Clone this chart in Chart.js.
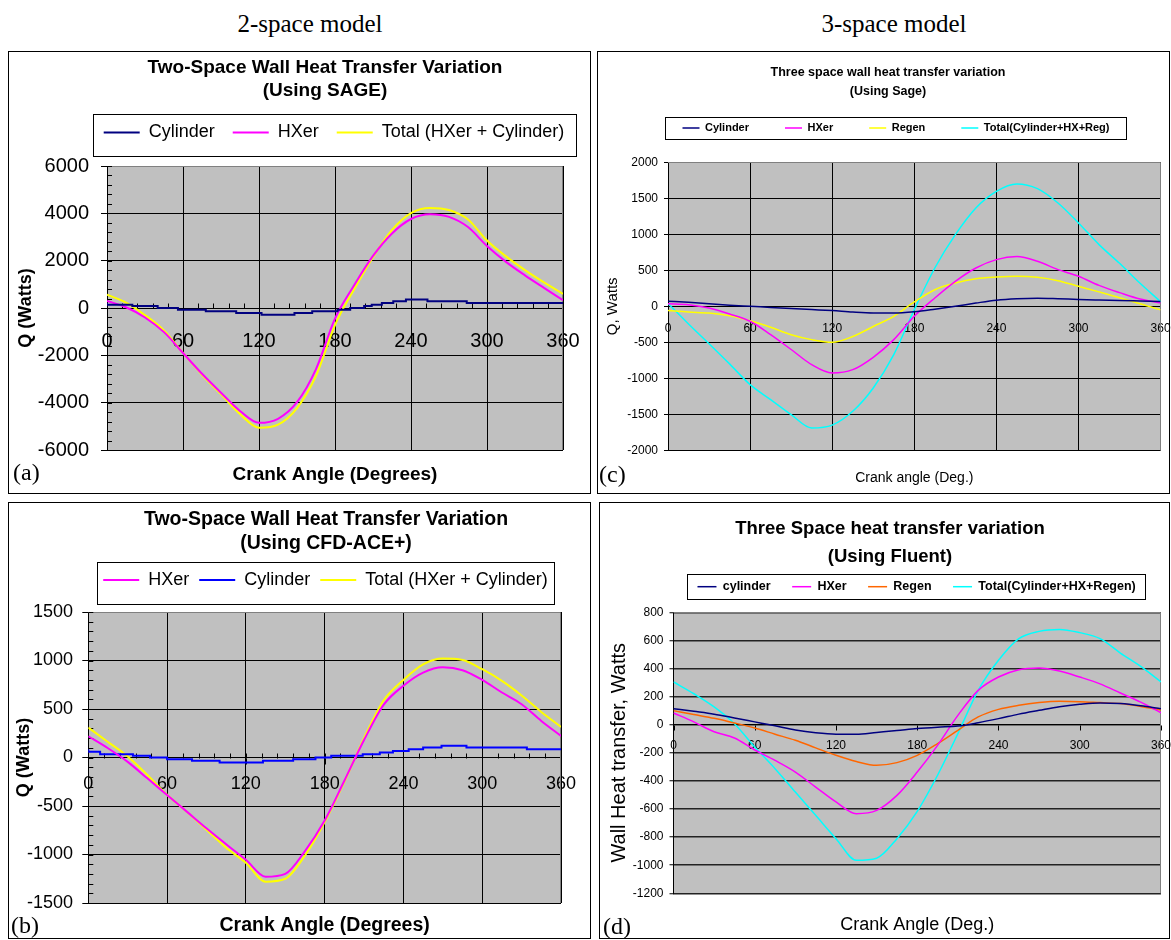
<!DOCTYPE html>
<html>
<head>
<meta charset="utf-8">
<title>Wall heat transfer variation</title>
<script src="https://cdn.jsdelivr.net/npm/chart.js@4.4.1/dist/chart.umd.min.js"></script>
<style>
  html, body { margin: 0; padding: 0; background: #fff; width: 1171px; height: 940px; overflow: hidden; }
  .panel { position: absolute; border: 1px solid #000; box-sizing: border-box; }
  canvas { position: absolute; }
  .cap { position: absolute; font-family: 'Liberation Serif', 'Times New Roman', serif; line-height: 1; white-space: nowrap; color: #000; }
</style>
</head>
<body>
<div class="cap" style="left:160px;top:11px;width:300px;text-align:center;font-size:25px;">2-space model</div>
<div class="cap" style="left:744px;top:11px;width:300px;text-align:center;font-size:25px;">3-space model</div>

<div class="panel" style="left:8px;top:51px;width:583px;height:443px;"></div>
<div class="panel" style="left:597px;top:51px;width:573px;height:443px;"></div>
<div class="panel" style="left:8px;top:502px;width:583px;height:437px;"></div>
<div class="panel" style="left:599px;top:502px;width:571px;height:437px;"></div>

<canvas id="chartA" width="581" height="440" style="left:9px;top:52px;"></canvas>
<canvas id="chartC" width="573" height="440" style="left:598px;top:52px;"></canvas>
<canvas id="chartB" width="581" height="434" style="left:9px;top:503px;"></canvas>
<canvas id="chartD" width="571" height="434" style="left:600px;top:503px;"></canvas>

<div class="cap" style="left:13px;top:460px;font-size:24px;">(a)</div>
<div class="cap" style="left:11px;top:913px;font-size:24px;">(b)</div>
<div class="cap" style="left:599px;top:462px;font-size:24px;">(c)</div>
<div class="cap" style="left:603px;top:914px;font-size:24px;">(d)</div>

<script>
// Crank angle grid used by the smooth series (degrees)
const crankAngle = [0, 15, 30, 45, 60, 75, 90, 105, 120, 135, 150, 165, 180,
                    195, 210, 225, 240, 255, 270, 285, 300, 315, 330, 345, 360];
const xTickAngles = [0, 60, 120, 180, 240, 300, 360];

// (a) Two-space, SAGE
const sage2Hxer  = [300, 30, -400, -1020, -1900, -2780, -3580, -4350, -4850, -4680, -3980, -2580, -450,
                    950, 2200, 3150, 3760, 3960, 3850, 3420, 2620, 1950, 1380, 850, 330];
const sage2Total = [560, 230, -300, -950, -1900, -2820, -3640, -4480, -5060, -4930, -4230, -2870, -720,
                    780, 2150, 3300, 4010, 4230, 4140, 3740, 2850, 2180, 1600, 1080, 600];
const sage2CylAngle = [0, 20, 40, 56, 78, 102, 122, 148, 162, 182, 192, 203, 209, 217, 226, 236, 253, 284, 349, 360];
const sage2Cyl      = [210, 140, 80, 0, -70, -140, -210, -280, -210, -140, -70, 0, 80, 140, 210, 280, 360, 290, 210, 210];
const yTicksA = [-6000, -4000, -2000, 0, 2000, 4000, 6000];

// (b) Two-space, CFD-ACE+
const cfd2Hxer  = [219, 95, -45, -215, -387, -558, -730, -895, -1055, -1230, -1200, -965, -650,
                   -240, 180, 545, 740, 875, 930, 900, 800, 670, 549, 377, 222];
const cfd2Total = [308, 160, 10, -180, -385, -560, -745, -930, -1085, -1280, -1250, -1010, -665,
                   -250, 200, 590, 800, 960, 1020, 1005, 910, 790, 640, 470, 315];
const cfd2CylAngle = [0, 9, 34, 47, 60, 79, 100, 133, 156, 173, 185, 209, 222, 232, 244, 255, 269, 288, 334, 357, 360];
const cfd2Cyl      = [86, 58, 34, 17, 0, -17, -34, -51, -34, -17, 0, 17, 34, 51, 68, 86, 103, 120, 103, 86, 86];
const yTicksB = [-1500, -1000, -500, 0, 500, 1000, 1500];

// (c) Three-space, Sage
const sage3Cyl   = [70, 55, 35, 15, 0, -15, -30, -45, -60, -80, -92, -92, -75,
                    -40, 0, 45, 85, 105, 112, 105, 95, 88, 82, 75, 68];
const sage3Hxer  = [37, 23, -23, -106, -208, -394, -600, -810, -926, -880, -708, -463, -139,
                    116, 347, 532, 648, 690, 625, 509, 417, 290, 190, 100, 45];
const sage3Regen = [-60, -80, -93, -130, -200, -290, -394, -463, -500, -420, -280, -140, 60,
                    230, 324, 384, 407, 417, 403, 356, 278, 200, 120, 35, -50];
const sage3Total = [40, -245, -520, -800, -1088, -1296, -1505, -1690, -1650, -1458, -1134, -671, -46,
                    532, 995, 1366, 1597, 1699, 1634, 1435, 1158, 857, 597, 320, 64];
const yTicksC = [-2000, -1500, -1000, -500, 0, 500, 1000, 1500, 2000];

// (d) Three-space, Fluent
const fluent3Cyl   = [114, 95, 75, 48, 20, -8, -38, -58, -68, -68, -55, -42, -28,
                      -18, -10, 14, 43, 75, 102, 128, 145, 155, 150, 135, 114];
const fluent3Hxer  = [83, 20, -50, -95, -180, -254, -337, -444, -550, -633, -610, -503, -337,
                      -147, 66, 244, 339, 391, 403, 382, 339, 290, 225, 160, 85];
const fluent3Regen = [100, 72, 45, 12, -24, -68, -111, -165, -218, -262, -289, -270, -218,
                      -135, -40, 55, 109, 138, 157, 166, 164, 157, 150, 130, 105];
const fluent3Total = [304, 220, 126, 7, -159, -313, -479, -645, -811, -965, -950, -811, -617,
                      -360, -64, 244, 458, 612, 664, 678, 655, 612, 510, 415, 305];
const yTicksD = [-1200, -1000, -800, -600, -400, -200, 0, 200, 400, 600, 800];

const NAVY = '#000080', MAGENTA = '#FF00FF', YELLOW = '#FFFF00', BLUE = '#0000FF',
      CYAN = '#00FFFF', ORANGE = '#FF6600';

Chart.defaults.font.family = "'Liberation Sans', Arial, Helvetica, sans-serif";
Chart.defaults.color = '#000';

function pairUp(xs, ys) { return xs.map((x, i) => ({ x: x, y: ys[i] })); }

// Places the title and legend rows, and outlines the legend
const blockPlacer = {
  id: 'blockPlacer',
  afterLayout(chart, args, o) {
    const t = chart.titleBlock;
    if (t && o.title) {
      const f = t.options.font;
      const lh = f.size * (f.lineHeight || 1.2);
      const w = t.right - t.left, h = t.bottom - t.top;
      t.left = o.title.x - w / 2; t.right = t.left + w;
      t.top = o.title.y - lh / 2; t.bottom = t.top + h;
    }
    const lg = chart.legend;
    if (lg && o.legend) {
      const pad = lg.options.labels.padding;
      const fs = lg.options.labels.font.size;
      const w = lg.right - lg.left, h = lg.bottom - lg.top;
      lg.left = o.legend.x - w / 2; lg.right = lg.left + w;
      lg.top = o.legend.y - pad - fs / 2; lg.bottom = lg.top + h;
    }
  },
  afterDraw(chart, args, o) {
    const lg = chart.legend, fr = o.frame;
    if (!lg || !fr || !lg.lineWidths) return;
    const pad = lg.options.labels.padding;
    const fs = lg.options.labels.font.size;
    const lw = lg.lineWidths[0];
    const start = (lg.left + pad + lg.right - lw) / 2;
    const end = start + lw - pad;
    const cy = lg.top + pad + fs / 2;
    const ctx = chart.ctx;
    ctx.save();
    ctx.strokeStyle = '#000';
    ctx.lineWidth = 1;
    ctx.strokeRect(Math.round(start - fr.padX) + 0.5, Math.round(cy - fr.above) + 0.5,
                   Math.round(end - start + 2 * fr.padX), Math.round(fr.above + fr.below));
    ctx.restore();
  }
};

// Grey plot background, grey outer edge, tick marks on the zero line and minor ticks
const plotFrame = {
  id: 'plotFrame',
  beforeDraw(chart, args, o) {
    const a = chart.chartArea, ctx = chart.ctx;
    ctx.save();
    ctx.fillStyle = o.fill;
    ctx.fillRect(a.left, a.top, a.right - a.left, a.bottom - a.top);
    ctx.restore();
  },
  beforeDatasetsDraw(chart, args, o) {
    const a = chart.chartArea, ctx = chart.ctx;
    const xs = chart.scales.x, ys = chart.scales.y;
    const y0 = Math.round(ys.getPixelForValue(0)) + 0.5;
    ctx.save();
    ctx.lineWidth = 1;
    ctx.strokeStyle = o.edge;
    ctx.beginPath();
    ctx.moveTo(a.left, Math.round(a.top) + 0.5);
    ctx.lineTo(Math.round(a.right) - 0.5, Math.round(a.top) + 0.5);
    ctx.lineTo(Math.round(a.right) - 0.5, a.bottom);
    ctx.stroke();
    ctx.strokeStyle = '#000';
    ctx.beginPath();
    if (o.majorX) {
      xs.ticks.forEach(t => {
        const px = Math.round(xs.getPixelForValue(t.value)) + 0.5;
        ctx.moveTo(px, y0); ctx.lineTo(px, y0 + o.majorX);
      });
    }
    if (o.minor) {
      if (o.minor.y) {
        for (let v = ys.min; v <= ys.max; v += o.minor.y) {
          const py = Math.round(ys.getPixelForValue(v)) + 0.5;
          ctx.moveTo(a.left, py); ctx.lineTo(a.left + o.minor.len, py);
        }
      }
      if (o.minor.x) {
        for (let v = xs.min; v <= xs.max; v += o.minor.x) {
          const px = Math.round(xs.getPixelForValue(v)) + 0.5;
          ctx.moveTo(px, y0); ctx.lineTo(px, y0 - o.minor.len);
        }
      }
    }
    ctx.stroke();
    ctx.restore();
  }
};

function makePanel(s) {
  return new Chart(document.getElementById(s.canvas), {
    type: 'line',
    data: {
      datasets: s.series.map(d => ({
        label: d.label,
        data: d.points,
        borderColor: d.color,
        backgroundColor: d.color,
        borderWidth: s.lineWidth,
        pointRadius: 0,
        fill: false,
        stepped: d.stepped ? 'after' : false,
        cubicInterpolationMode: 'monotone'
      }))
    },
    plugins: [blockPlacer, plotFrame],
    options: {
      responsive: false,
      animation: false,
      events: [],
      layout: { padding: { left: 0, right: s.padRight, top: s.padTop, bottom: 0 } },
      scales: {
        x: {
          type: 'linear', min: 0, max: 360, position: { y: 0 },
          afterBuildTicks: sc => { sc.ticks = xTickAngles.map(v => ({ value: v })); },
          grid: { color: '#000', lineWidth: 1, drawOnChartArea: s.vGrid,
                  drawTicks: true, tickLength: s.xLabelGap, tickColor: 'rgba(0,0,0,0)' },
          border: { display: true, color: '#000', width: 1 },
          ticks: { font: { size: s.xTickFont }, padding: 0, maxRotation: 0,
                   autoSkip: false, color: '#000', callback: v => String(v) }
        },
        xTitle: {
          type: 'linear', axis: 'x', position: 'bottom',
          grid: { display: false, drawTicks: false },
          border: { display: false },
          ticks: { display: false },
          title: { display: true, text: s.xTitle, font: s.xTitleFont, color: '#000',
                   padding: { top: 0, bottom: s.xTitlePad } },
          afterFit: sc => { sc.height = s.bottomHeight; }
        },
        y: {
          type: 'linear', min: s.yTicks[0], max: s.yTicks[s.yTicks.length - 1],
          afterBuildTicks: sc => { sc.ticks = s.yTicks.map(v => ({ value: v })); },
          grid: { color: s.hGridColor, lineWidth: s.hGridWidth, drawTicks: true,
                  tickLength: s.yTickLen, tickColor: '#000', tickWidth: 1 },
          border: { display: true, color: '#000', width: 1 },
          ticks: { font: { size: s.yTickFont }, padding: s.yTickPad, color: '#000',
                   callback: v => String(v) },
          title: { display: true, text: s.yTitle, font: s.yTitleFont, color: '#000',
                   padding: { top: s.yTitlePad, bottom: 0 } },
          afterFit: sc => { sc.width = s.yAxisWidth; }
        }
      },
      plugins: {
        tooltip: { enabled: false },
        title: { display: true, text: s.title, font: s.titleFont, color: '#000', padding: 0 },
        legend: {
          display: true, position: 'top',
          labels: { usePointStyle: true, pointStyle: 'line', pointStyleWidth: s.legendLine,
                    font: s.legendFont, color: '#000', padding: s.legendPad }
        },
        blockPlacer: { title: s.titleAt, legend: s.legendAt, frame: s.legendFrame },
        plotFrame: { fill: '#C0C0C0', edge: '#808080', minor: s.minor, majorX: s.xMajorTick }
      }
    }
  });
}

// (a)
makePanel({
  canvas: 'chartA',
  title: ['Two-Space Wall Heat Transfer Variation', '(Using SAGE)'],
  titleFont: { size: 19, weight: 'bold', lineHeight: 1.2 }, titleAt: { x: 316, y: 16 },
  legendFont: { size: 18 }, legendPad: 18, legendLine: 36,
  legendAt: { x: 325, y: 80.5 }, legendFrame: { padX: 11, above: 18.5, below: 23.5 },
  padTop: 22.4, padRight: 27,
  yTicks: yTicksA, yAxisWidth: 98, yTickFont: 20, yTickLen: 6, yTickPad: 12,
  yTitle: 'Q (Watts)', yTitleFont: { size: 18, weight: 'bold' }, yTitlePad: 6,
  xTickFont: 20, xLabelGap: 21, xMajorTick: 6, vGrid: true,
  xTitle: 'Crank Angle (Degrees)', xTitleFont: { size: 19, weight: 'bold' }, xTitlePad: 5.6, bottomHeight: 42,
  hGridColor: '#000', hGridWidth: 1, lineWidth: 2,
  minor: { x: 12, y: 400, len: 5 },
  series: [
    { label: 'Cylinder', color: NAVY, points: pairUp(sage2CylAngle, sage2Cyl), stepped: true },
    { label: 'HXer', color: MAGENTA, points: pairUp(crankAngle, sage2Hxer) },
    { label: 'Total (HXer + Cylinder)', color: YELLOW, points: pairUp(crankAngle, sage2Total) }
  ]
});

// (b)
makePanel({
  canvas: 'chartB',
  title: ['Two-Space Wall Heat Transfer Variation', '(Using CFD-ACE+)'],
  titleFont: { size: 19.5, weight: 'bold', lineHeight: 1.2 }, titleAt: { x: 317, y: 17 },
  legendFont: { size: 18 }, legendPad: 10, legendLine: 36,
  legendAt: { x: 316.5, y: 77 }, legendFrame: { padX: 6, above: 18, below: 24 },
  padTop: 24.2, padRight: 29,
  yTicks: yTicksB, yAxisWidth: 79.3, yTickFont: 18, yTickLen: 6, yTickPad: 9.3,
  yTitle: 'Q (Watts)', yTitleFont: { size: 18, weight: 'bold' }, yTitlePad: 4.7,
  xTickFont: 18, xLabelGap: 16, xMajorTick: 6, vGrid: true,
  xTitle: 'Crank Angle (Degrees)', xTitleFont: { size: 19.5, weight: 'bold' }, xTitlePad: 0, bottomHeight: 34,
  hGridColor: '#000', hGridWidth: 1, lineWidth: 2,
  minor: { x: 12, y: 100, len: 5 },
  series: [
    { label: 'HXer', color: MAGENTA, points: pairUp(crankAngle, cfd2Hxer) },
    { label: 'Cylinder', color: BLUE, points: pairUp(cfd2CylAngle, cfd2Cyl), stepped: true },
    { label: 'Total (HXer + Cylinder)', color: YELLOW, points: pairUp(crankAngle, cfd2Total) }
  ]
});

// (c)
makePanel({
  canvas: 'chartC',
  title: ['Three space wall heat transfer variation', '(Using Sage)'],
  titleFont: { size: 12.5, weight: 'bold', lineHeight: 1.55 }, titleAt: { x: 290, y: 20.3 },
  legendFont: { size: 11, weight: 'bold' }, legendPad: 36, legendLine: 17,
  legendAt: { x: 298, y: 76 }, legendFrame: { padX: 17, above: 11, below: 11 },
  padTop: 14.55, padRight: 10.4,
  yTicks: yTicksC, yAxisWidth: 70, yTickFont: 12, yTickLen: 4, yTickPad: 6,
  yTitle: 'Q, Watts', yTitleFont: { size: 15 }, yTitlePad: 6,
  xTickFont: 12, xLabelGap: 14.8, xMajorTick: 0, vGrid: true,
  xTitle: 'Crank angle (Deg.)', xTitleFont: { size: 14 }, xTitlePad: 5.6, bottomHeight: 41.7,
  hGridColor: '#000', hGridWidth: 1, lineWidth: 1.5,
  minor: null,
  series: [
    { label: 'Cylinder', color: NAVY, points: pairUp(crankAngle, sage3Cyl) },
    { label: 'HXer', color: MAGENTA, points: pairUp(crankAngle, sage3Hxer) },
    { label: 'Regen', color: YELLOW, points: pairUp(crankAngle, sage3Regen) },
    { label: 'Total(Cylinder+HX+Reg)', color: CYAN, points: pairUp(crankAngle, sage3Total) }
  ]
});

// (d)
makePanel({
  canvas: 'chartD',
  title: ['Three Space heat transfer variation', '(Using Fluent)'],
  titleFont: { size: 18.5, weight: 'bold', lineHeight: 1.48 }, titleAt: { x: 290, y: 26.3 },
  legendFont: { size: 12.5, weight: 'bold' }, legendPad: 21.5, legendLine: 19,
  legendAt: { x: 316.6, y: 83.7 }, legendFrame: { padX: 10, above: 12.7, below: 12.6 },
  padTop: 10.5, padRight: 10,
  yTicks: yTicksD, yAxisWidth: 73.5, yTickFont: 12, yTickLen: 4, yTickPad: 6,
  yTitle: 'Wall Heat transfer, Watts', yTitleFont: { size: 20 }, yTitlePad: 7.6,
  xTickFont: 12, xLabelGap: 13.5, xMajorTick: 5, vGrid: false,
  xTitle: 'Crank Angle (Deg.)', xTitleFont: { size: 18 }, xTitlePad: 1.2, bottomHeight: 43.7,
  hGridColor: '#222', hGridWidth: 1.5, lineWidth: 1.5,
  minor: null,
  series: [
    { label: 'cylinder', color: NAVY, points: pairUp(crankAngle, fluent3Cyl) },
    { label: 'HXer', color: MAGENTA, points: pairUp(crankAngle, fluent3Hxer) },
    { label: 'Regen', color: ORANGE, points: pairUp(crankAngle, fluent3Regen) },
    { label: 'Total(Cylinder+HX+Regen)', color: CYAN, points: pairUp(crankAngle, fluent3Total) }
  ]
});
</script>
</body>
</html>
